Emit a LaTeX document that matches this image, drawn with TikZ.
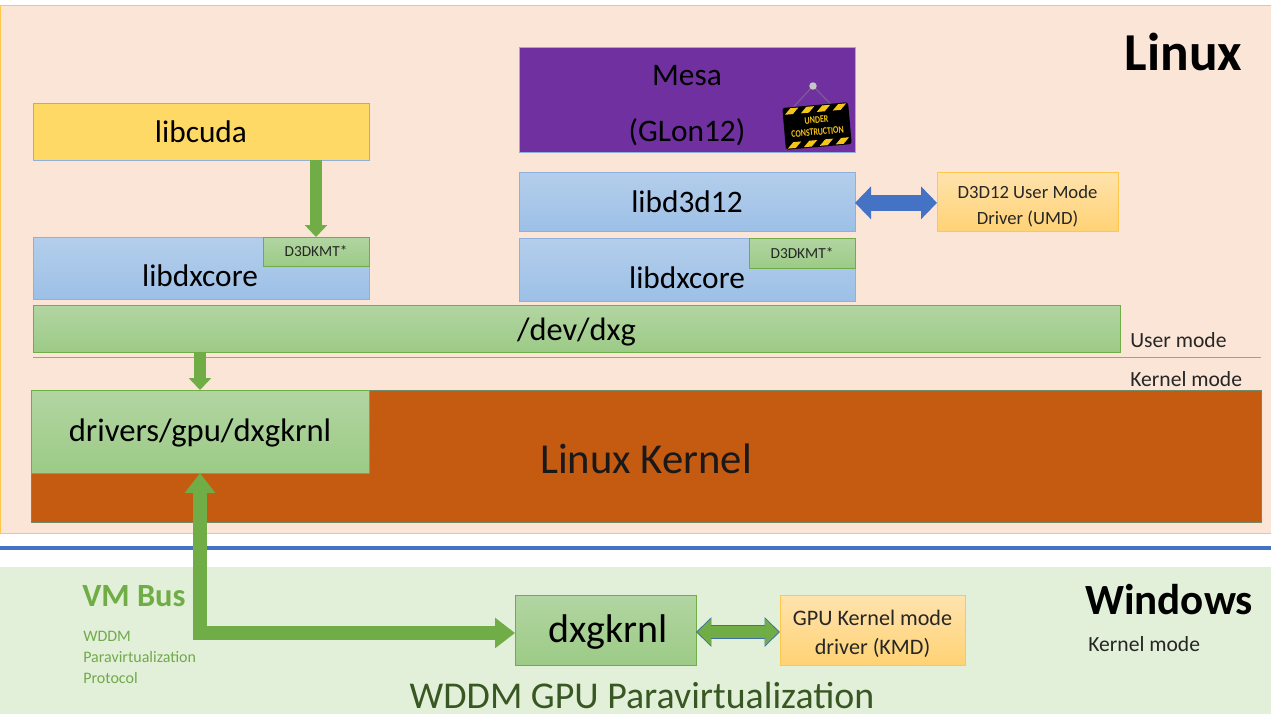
\documentclass[tikz,border=0pt]{standalone}
\usepackage{fontspec}
\setmainfont{Carlito}
\usepackage{tikz}
\usetikzlibrary{arrows.meta}
\definecolor{linuxbg}{HTML}{FBE5D6}
\definecolor{winbg}{HTML}{E2F0D9}
\definecolor{panelline}{HTML}{FFC84A}
\definecolor{divider}{HTML}{4472C4}
\definecolor{modeline}{HTML}{8F9CCB}
\definecolor{purplebox}{HTML}{7030A0}
\definecolor{kernelbox}{HTML}{C55A11}
\definecolor{arrowgreen}{HTML}{70AD47}
\definecolor{arrowline}{HTML}{41719C}
\definecolor{titlegreen}{HTML}{385723}
\definecolor{signyellow}{HTML}{F5C518}
\definecolor{bluetop}{HTML}{B4CEEB}
\definecolor{bluebot}{HTML}{9DC0E7}
\definecolor{blueline}{HTML}{8FB0DC}
\definecolor{greentop}{HTML}{B2D5A2}
\definecolor{greenbot}{HTML}{9CCB86}
\definecolor{orangetop}{HTML}{FFE3AE}
\definecolor{orangebot}{HTML}{FFD274}
\definecolor{cudafill}{HTML}{FFD966}

\begin{document}
\begin{tikzpicture}[
    x=0.75pt, y=-0.75pt,
    wh/.style 2 args={minimum width=#1*0.75pt, minimum height=#2*0.75pt, inner sep=0pt, outer sep=0pt},
    bluebox/.style={draw=blueline, top color=bluetop, bottom color=bluebot},
    greenbox/.style={draw=arrowgreen, top color=greentop, bottom color=greenbot},
    orangebox/.style={draw=panelline, top color=orangetop, bottom color=orangebot},
    txt/.style={font=\fontsize{23.5}{28}\selectfont, text=black, inner sep=0pt},
    tiny/.style={font=\fontsize{11.5}{14}\selectfont, text=black!85, inner sep=0pt},
    small/.style={font=\fontsize{14}{19.5}\selectfont, text=black!85, align=center, inner sep=0pt},
    mode/.style={font=\fontsize{16.2}{19}\selectfont, text=black!85, anchor=west, inner sep=0pt},
    arr/.style={arrowgreen, line width=8.5pt, -{Triangle[length=9pt, width=16.5pt]}},
    bus/.style={arrowgreen, line width=11pt, {Triangle[length=15pt, width=22pt]}-{Triangle[length=15pt, width=22pt]}},
    kmdout/.style={arrowline, line width=11pt, {Triangle[length=11.5pt, width=21.5pt]}-{Triangle[length=11.5pt, width=21.5pt]}},
    kmdin/.style={arrowgreen, line width=9.5pt, shorten >=1.1pt, shorten <=1.1pt, {Triangle[length=10pt, width=19pt]}-{Triangle[length=10pt, width=19pt]}}
]

% Panels
\useasboundingbox (0,0) rectangle (1271,714);
\fill[white] (0,0) rectangle (1271,714);
\node[wh={1271}{528}, fill=linuxbg, draw=panelline] (linux) at (635.5,269) {};
\node[wh={1271}{147}, fill=winbg] (windows) at (635.5,640.5) {};
\coordinate (divl) at (0,548);
\coordinate (divr) at (1271,548);
\draw[divider, line width=2.6pt] (divl) -- (divr);

% Left stack
\node[wh={336}{57}, fill=cudafill, draw=blueline, txt] (libcuda) at (201,131.5) {libcuda};
\node[wh={336}{62}, bluebox] (core1) at (201,268) {};
\node[txt] (core1txt) at (200,276) {libdxcore};
\node[wh={106}{29}, greenbox, tiny] (kmt1) at (316,251.5) {D3DKMT*};

% Right stack
\node[wh={336}{105}, fill=purplebox, draw=blueline] (mesa) at (687,99.5) {};
\node[txt, align=center, font=\fontsize{23.5}{42}\selectfont] (mesatxt) at (687,105.5) {Mesa\\(GLon12)};
\node[wh={336}{59}, bluebox, txt] (d3d12) at (687,201.5) {libd3d12};
\node[wh={336}{63}, bluebox] (core2) at (687,269.5) {};
\node[txt] (core2txt) at (687,278) {libdxcore};
\node[wh={106}{30}, greenbox, tiny] (kmt2) at (802,253) {D3DKMT*};
\node[wh={181}{59}, orangebox] (umd) at (1027.5,201.5) {};
\node[small] (umdtxt) at (1027.5,206) {D3D12 User Mode\\Driver (UMD)};

% Sign on the purple box
\coordinate (nail) at (813,86);
\begin{scope}[shift={(817,126)}, rotate=5]
    \coordinate (hookl) at (-24,-19);
    \coordinate (hookr) at (17,-19);
\end{scope}
\draw[gray!60!purplebox, line width=0.9pt] (hookl) -- (nail) -- (hookr);
\fill[gray!45] (nail) circle (2.8pt);
\begin{scope}[shift={(817,126)}, rotate=5]
    \fill[black, rounded corners=2pt] (-33,-21) rectangle (33,21);
    \foreach \sx in {-24,-8,8,24} {
        \fill[signyellow] (\sx-7,-14) -- (\sx+1,-14) -- (\sx+7,-20) -- (\sx-1,-20) -- cycle;
        \fill[signyellow] (\sx-7,20) -- (\sx+1,20) -- (\sx+7,14) -- (\sx-1,14) -- cycle;
    }
\end{scope}
\node[rotate=5, text=signyellow, align=center, inner sep=0pt, font=\fontsize{7.6}{9}\selectfont\bfseries] (sign) at (817,126) {\scalebox{0.78}[1]{UNDER}\\\scalebox{0.78}[1]{CONSTRUCTION}};

% Shared rows
\node[wh={1087}{47}, greenbox] (dxg) at (576.5,328.5) {};
\node[txt, font=\fontsize{24.3}{28}\selectfont] (dxgtxt) at (576.5,332) {/dev/dxg};
\coordinate (model) at (33,357);
\coordinate (moder) at (1261,357);
\draw[modeline, line width=0.7pt] (model) -- (moder);
\node[mode] (usermode) at (1130,340) {User mode};
\node[mode] (kernelmode) at (1130,379) {Kernel mode};
\node[wh={1230}{132}, fill=kernelbox, draw=arrowgreen!50!black!70] (kernel) at (646,456) {};
\node[font=\fontsize{32}{38}\selectfont, text=black!90] (kerneltxt) at (646,459) {Linux Kernel};
\node[wh={338}{83}, greenbox] (drivers) at (200,431.5) {};
\node[txt, font=\fontsize{24.5}{28}\selectfont] (driverstxt) at (200,433) {drivers/gpu/dxgkrnl};

% Windows side
\node[wh={181}{70}, greenbox] (dxgkrnl) at (605.5,630) {};
\node[txt, font=\fontsize{30}{34}\selectfont] (dxgkrnltxt) at (608,632) {dxgkrnl};
\node[wh={185}{70}, orangebox] (kmd) at (872.5,630) {};
\node[small, font=\fontsize{16.6}{21.8}\selectfont] (kmdtxt) at (872.5,634) {GPU Kernel mode\\driver (KMD)};

% Arrows
\draw[arr] (libcuda.south -| kmt1) -- (kmt1.north |- core1.north);
\draw[arr] (dxg.south -| drivers) -- (drivers.north);
\draw[bus] (drivers.south) |- ([yshift=-2.25pt]dxgkrnl.west);
\draw[divider, line width=12.5pt, {Triangle[length=12pt, width=24pt]}-{Triangle[length=12pt, width=24pt]}] ([yshift=-1pt]d3d12.east) -- ([yshift=-1pt]umd.west);
\draw[kmdout] ([yshift=-1.5pt]dxgkrnl.east) -- ([yshift=-1.5pt]kmd.west);
\draw[kmdin] ([yshift=-1.5pt]dxgkrnl.east) -- ([yshift=-1.5pt]kmd.west);

% Labels
\node[font=\fontsize{40}{48}\selectfont\bfseries, text=black] (linuxtxt) at (1183.5,52) {Linux};
\node[font=\fontsize{32.3}{38}\selectfont\bfseries, text=black] (wintxt) at (1169,600) {Windows};
\node[mode] (winkernel) at (1088,644) {Kernel mode};
\node[font=\fontsize{24.3}{28}\selectfont\bfseries, text=arrowgreen, anchor=west, inner sep=0pt] (vmbus) at (82,596) {VM Bus};
\node[font=\fontsize{12}{15.8}\selectfont, text=arrowgreen!90!gray, anchor=north west, align=left, inner sep=0pt] (proto) at (83,631) {WDDM\\Paravirtualization\\Protocol};
\node[font=\fontsize{28.4}{32}\selectfont, text=titlegreen, inner sep=0pt] (wddm) at (642,695) {WDDM GPU Paravirtualization};

\end{tikzpicture}
\end{document}
